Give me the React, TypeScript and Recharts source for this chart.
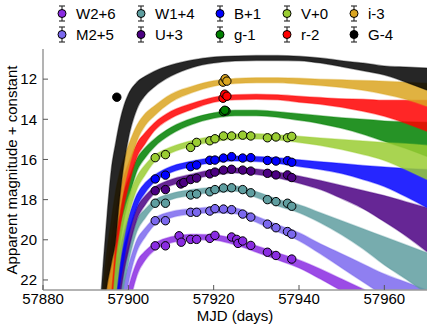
import React from 'react';
import { ComposedChart, Area, Scatter, XAxis, YAxis } from 'recharts';

// ---- model grid (MJD) ----
const MODEL_MJD = [57893, 57894, 57895, 57896, 57897, 57898, 57899, 57900, 57902, 57904, 57906, 57910, 57915, 57920, 57925, 57930, 57935, 57940, 57945, 57950, 57955, 57960, 57965, 57970];

// bright edge (lo) and faint edge (hi) of each model bundle, in magnitudes
const G_LO = [24.5, 21.5, 18.8, 16.5, 15.2, 14.1, 13.3, 12.75, 12.15, 11.85, 11.62, 11.3, 11.05, 10.9, 10.85, 10.82, 10.82, 10.86, 10.95, 11.08, 11.2, 11.35, 11.4, 11.45];
const G_HI = [27, 24, 22.3, 21.2, 20.1, 17.9, 16.2, 15.0, 13.5, 12.8, 12.4, 11.85, 11.42, 11.2, 11.1, 11.07, 11.07, 11.08, 11.2, 11.38, 11.58, 11.8, 12.15, 12.55];

const I_LO = [26, 22.5, 20.5, 19, 17.6, 16.6, 15.9, 15.3, 14.3, 13.7, 13.35, 12.75, 12.35, 12.08, 11.97, 11.93, 11.93, 11.96, 12.0, 12.03, 12.07, 12.1, 12.15, 12.2];
const I_HI = [28, 25, 24, 22.5, 20, 18.6, 17.4, 16.5, 15.1, 14.3, 13.85, 13.15, 12.67, 12.35, 12.22, 12.18, 12.18, 12.24, 12.32, 12.42, 12.55, 12.75, 13.0, 13.35];

const R_LO = [28, 23.5, 21.5, 20, 18.6, 17.6, 16.8, 16.2, 15.2, 14.65, 14.2, 13.6, 13.2, 12.9, 12.78, 12.75, 12.78, 12.85, 12.92, 12.98, 13.0, 13.05, 13.05, 13.05];
const R_HI = [30, 26, 25, 23.5, 21, 19.5, 18.3, 17.4, 15.9, 15.2, 14.6, 13.95, 13.5, 13.15, 13.03, 13.0, 13.03, 13.15, 13.25, 13.4, 13.6, 13.85, 14.2, 14.6];

const GG_LO = [29, 24, 22.3, 20.8, 19.5, 18.5, 17.6, 17.0, 15.95, 15.4, 15.0, 14.4, 13.95, 13.68, 13.55, 13.55, 13.62, 13.72, 13.82, 13.92, 14.0, 14.08, 14.12, 14.15];
const GG_HI = [31, 26, 25, 24, 22, 20.3, 19.0, 18.1, 16.6, 15.9, 15.4, 14.75, 14.25, 13.95, 13.82, 13.82, 13.9, 14.05, 14.22, 14.45, 14.75, 15.1, 15.45, 15.85];

const V_LO = [30, 25, 23.2, 21.8, 20.5, 19.4, 18.6, 17.9, 16.85, 16.25, 15.82, 15.38, 15.05, 14.85, 14.73, 14.72, 14.77, 14.85, 14.93, 15.0, 15.08, 15.15, 15.22, 15.3];
const V_HI = [32, 27, 26, 25, 23, 21.2, 19.9, 18.9, 17.5, 16.75, 16.15, 15.68, 15.33, 15.12, 14.98, 14.98, 15.03, 15.15, 15.3, 15.5, 15.75, 16.05, 16.5, 17.0];

const B_LO = [31, 27, 24.5, 23, 21.6, 20.5, 19.6, 18.9, 17.75, 17.15, 16.8, 16.35, 16.08, 15.9, 15.83, 15.85, 15.92, 16.02, 16.12, 16.2, 16.3, 16.38, 16.45, 16.5];
const B_HI = [33, 29, 27, 26, 24, 22.3, 21, 19.9, 18.4, 17.65, 17.15, 16.65, 16.35, 16.15, 16.08, 16.1, 16.2, 16.35, 16.5, 16.7, 17.0, 17.35, 17.85, 18.4];

const U_LO = [32, 28, 25, 23.6, 22.3, 21.2, 20.3, 19.6, 18.4, 17.8, 17.4, 17.0, 16.72, 16.5, 16.42, 16.47, 16.62, 16.82, 17.05, 17.3, 17.55, 17.8, 18.1, 18.4];
const U_HI = [34, 30, 28, 26.5, 24.8, 23.0, 21.6, 20.6, 19.0, 18.25, 17.72, 17.3, 17.0, 16.78, 16.68, 16.75, 16.92, 17.18, 17.5, 17.95, 18.45, 19.1, 19.8, 20.6];

const W1_LO = [33, 29, 25.5, 24.2, 23, 21.9, 21.0, 20.3, 19.0, 18.45, 18.05, 17.7, 17.5, 17.38, 17.32, 17.6, 17.98, 18.25, 18.65, 19.05, 19.45, 19.85, 20.25, 20.65];
const W1_HI = [35, 31, 28, 27, 25.5, 23.8, 22.3, 21.2, 19.6, 18.9, 18.38, 18.0, 17.78, 17.65, 17.58, 17.9, 18.32, 18.65, 19.15, 19.75, 20.45, 21.25, 21.95, 22.7];

const M2_LO = [34, 30, 26.5, 25.2, 24, 22.9, 22.0, 21.3, 20.0, 19.4, 18.95, 18.6, 18.45, 18.38, 18.42, 18.83, 19.25, 19.65, 20.2, 20.7, 21.2, 21.7, 22.1, 22.5];
const M2_HI = [36, 32, 29, 28, 26.5, 24.8, 23.3, 22.2, 20.6, 19.85, 19.3, 18.9, 18.72, 18.65, 18.7, 19.13, 19.6, 20.05, 20.7, 21.4, 22.1, 22.8, 23.5, 24.2];

const W2_LO = [36, 33, 30, 28, 26, 24.5, 23.3, 22.4, 21.1, 20.55, 20.2, 19.85, 19.72, 19.75, 19.95, 20.3, 20.65, 21.0, 21.45, 21.95, 22.45, 22.95, 23.45, 23.95];
const W2_HI = [38, 35, 32, 30, 29, 27, 25, 23.6, 21.8, 21.0, 20.55, 20.15, 20.0, 20.02, 20.25, 20.62, 21.0, 21.4, 21.95, 22.55, 23.15, 23.75, 24.35, 24.95];

// ---- observations ----
const UVOT_MJD = [57906.3, 57908.7, 57914.6, 57916.0, 57919.1, 57920.3, 57922.3, 57924.2, 57926.8, 57928.7, 57932.6, 57934.6, 57937.3, 57938.3];

const W2_OBS_MJD = [57906.3, 57908.7, 57911.9, 57912.4, 57914.6, 57916.0, 57919.1, 57920.3, 57924.2, 57925.4, 57925.7, 57926.8, 57928.7, 57932.6, 57934.6, 57938.3];
const W2_OBS_MAG = [20.30, 20.30, 19.80, 20.12, 19.98, 19.98, 19.93, 19.78, 19.86, 19.98, 20.18, 20.06, 20.28, 20.62, 20.78, 20.96];
const M2_OBS_MAG = [19.05, 19.05, 18.63, 18.63, 18.57, 18.45, 18.47, 18.50, 18.72, 18.87, 19.22, 19.40, 19.59, 19.72];
const W1_OBS_MAG = [18.18, 18.18, 17.77, 17.72, 17.61, 17.50, 17.42, 17.41, 17.50, 17.66, 18.00, 18.10, 18.18, 18.33];
const U_OBS_MJD = [57906.3, 57908.7, 57912.3, 57913.0, 57914.6, 57916.0, 57919.1, 57920.3, 57922.3, 57924.2, 57926.8, 57928.7, 57932.6, 57934.6, 57937.3, 57938.3];
const U_OBS_MAG = [17.56, 17.50, 17.22, 17.15, 17.0, 16.93, 16.72, 16.63, 16.53, 16.49, 16.53, 16.58, 16.69, 16.77, 16.77, 16.9];
const B_OBS_MAG = [16.97, 16.78, 16.36, 16.28, 16.04, 16.03, 15.93, 15.86, 15.93, 15.91, 16.05, 16.08, 16.06, 16.14];
const V_OBS_MAG = [15.91, 15.76, 15.40, 15.15, 15.07, 14.97, 14.83, 14.83, 14.79, 14.83, 14.92, 14.88, 14.92, 14.85];
const GG_OBS_MJD = [57922.3, 57922.9, 57922.6];
const GG_OBS_MAG = [13.62, 13.58, 13.55];
const R_OBS_MJD = [57922.2, 57922.6, 57923.1];
const R_OBS_MAG = [12.95, 12.75, 12.85];
const I_OBS_MJD = [57922.2, 57922.7, 57923.1];
const I_OBS_MAG = [12.15, 11.98, 12.1];
const G_OBS_MJD = [57897.3];
const G_OBS_MAG = [12.9];

const X_TICKS = [57880, 57900, 57920, 57940, 57960];
const Y_TICKS = [12, 14, 16, 18, 20, 22];

// plot order (also legend order, column-major)
const BANDS = [
  { label: 'W2+6', color: '#8A2BE2', lo: W2_LO, hi: W2_HI, obsX: W2_OBS_MJD, obsY: W2_OBS_MAG },
  { label: 'M2+5', color: '#7B68EE', lo: M2_LO, hi: M2_HI, obsX: UVOT_MJD, obsY: M2_OBS_MAG },
  { label: 'W1+4', color: '#5F9EA0', lo: W1_LO, hi: W1_HI, obsX: UVOT_MJD, obsY: W1_OBS_MAG },
  { label: 'U+3', color: '#4B0082', lo: U_LO, hi: U_HI, obsX: U_OBS_MJD, obsY: U_OBS_MAG },
  { label: 'B+1', color: '#0000FF', lo: B_LO, hi: B_HI, obsX: UVOT_MJD, obsY: B_OBS_MAG },
  { label: 'g-1', color: '#008000', lo: GG_LO, hi: GG_HI, obsX: GG_OBS_MJD, obsY: GG_OBS_MAG },
  { label: 'V+0', color: '#9ACD32', lo: V_LO, hi: V_HI, obsX: UVOT_MJD, obsY: V_OBS_MAG },
  { label: 'r-2', color: '#FF0000', lo: R_LO, hi: R_HI, obsX: R_OBS_MJD, obsY: R_OBS_MAG },
  { label: 'i-3', color: '#DAA520', lo: I_LO, hi: I_HI, obsX: I_OBS_MJD, obsY: I_OBS_MAG },
  { label: 'G-4', color: '#000000', lo: G_LO, hi: G_HI, obsX: G_OBS_MJD, obsY: G_OBS_MAG },
];

const FONT = '"Liberation Sans", Arial, sans-serif';
const AXIS_GRAY = '#9a9a9a';
const TICK_COLOR = '#555';

const BottomTick = (props: any) => {
  const { x, y, payload } = props;
  return (
    <g>
      <line x1={x} x2={x} y1={y - 3} y2={y - 8} stroke={TICK_COLOR} strokeWidth={1} />
      <text x={x} y={y} dy="0.71em" textAnchor="middle" fontFamily={FONT} fontSize={15} fill="#000">
        {payload.value}
      </text>
    </g>
  );
};
const TopTick = (props: any) => {
  const { x, y } = props;
  return <line x1={x} x2={x} y1={y} y2={y + 5} stroke={TICK_COLOR} strokeWidth={1} />;
};
const LeftTick = (props: any) => {
  const { x, y, payload } = props;
  return (
    <g>
      <line x1={x + 6} x2={x + 11} y1={y} y2={y} stroke={TICK_COLOR} strokeWidth={1} />
      <text x={x} y={y} dy="0.355em" textAnchor="end" fontFamily={FONT} fontSize={15} fill="#000">
        {payload.value}
      </text>
    </g>
  );
};
const RightTick = (props: any) => {
  const { x, y } = props;
  return <line x1={x} x2={x - 5} y1={y} y2={y} stroke={TICK_COLOR} strokeWidth={1} />;
};

const Legend = () => (
  <svg width={436} height={48} style={{ position: 'absolute', left: 0, top: 0 }}>
    {BANDS.map((b, k) => {
      const col = Math.floor(k / 2);
      const row = k % 2;
      const mx = [62, 141, 220, 287, 354][col];
      const my = row === 0 ? 13.5 : 34.5;
      return (
        <g key={b.label}>
          <line x1={mx} x2={mx} y1={my - 7.5} y2={my + 7.5} stroke="#333" strokeWidth={1.2} />
          <line x1={mx - 3} x2={mx + 3} y1={my - 7.5} y2={my - 7.5} stroke="#333" strokeWidth={1.2} />
          <line x1={mx - 3} x2={mx + 3} y1={my + 7.5} y2={my + 7.5} stroke="#333" strokeWidth={1.2} />
          <circle cx={mx} cy={my} r={4} fill={b.color} stroke="#000" strokeWidth={1} />
          <text x={mx + 14} y={my} dy="0.36em" fontFamily={FONT} fontSize={15} fill="#000">
            {b.label}
          </text>
        </g>
      );
    })}
  </svg>
);

export default function App() {
  const modelData = BANDS.map((b) =>
    MODEL_MJD.map((x, i) => ({ x, range: [b.lo[i], b.hi[i]] }))
  );
  const obsData = BANDS.map((b) => b.obsX.map((x, i) => ({ x, y: b.obsY[i] })));

  return (
    <div style={{ position: 'absolute', left: 0, top: 0, width: 436, height: 327, background: '#fff' }}>
      <ComposedChart width={436} height={327} margin={{ top: 49, right: 9, left: 0, bottom: 0 }}>
        <XAxis
          dataKey="x"
          type="number"
          domain={[57880, 57970]}
          ticks={X_TICKS}
          allowDataOverflow
          height={37}
          tickSize={0}
          tickMargin={3}
          tick={<BottomTick />}
          axisLine={{ stroke: AXIS_GRAY, strokeWidth: 1.5 }}
          tickLine={false}
        />
        <XAxis
          xAxisId="top"
          orientation="top"
          dataKey="x"
          type="number"
          domain={[57880, 57970]}
          ticks={X_TICKS}
          allowDataOverflow
          height={0}
          tickSize={0}
          tickMargin={0}
          tick={<TopTick />}
          axisLine={{ stroke: AXIS_GRAY, strokeWidth: 1.5 }}
          tickLine={false}
        />
        <YAxis
          type="number"
          domain={[10.5, 22.5]}
          reversed
          ticks={Y_TICKS}
          allowDataOverflow
          width={43}
          tickSize={0}
          tickMargin={6}
          tick={<LeftTick />}
          axisLine={{ stroke: AXIS_GRAY, strokeWidth: 1.5 }}
          tickLine={false}
        />
        <YAxis
          yAxisId="right"
          orientation="right"
          type="number"
          domain={[10.5, 22.5]}
          reversed
          ticks={Y_TICKS}
          allowDataOverflow
          width={0}
          tickSize={0}
          tickMargin={0}
          tick={<RightTick />}
          axisLine={{ stroke: AXIS_GRAY, strokeWidth: 1.5 }}
          tickLine={false}
        />
        {BANDS.map((b, k) => (
          <Area
            key={'m' + b.label}
            data={modelData[k]}
            dataKey="range"
            type="monotone"
            stroke={b.color}
            strokeOpacity={0.35}
            strokeWidth={1.5}
            fill={b.color}
            fillOpacity={0.85}
            isAnimationActive={false}
            dot={false}
            activeDot={false}
            legendType="none"
          />
        ))}
        {BANDS.map((b, k) => (
          <Scatter
            key={'o' + b.label}
            data={obsData[k]}
            dataKey="y"
            isAnimationActive={false}
            legendType="none"
            shape={(p: any) => (
              <circle cx={p.cx} cy={p.cy} r={4.2} fill={b.color} stroke="#000" strokeWidth={1} />
            )}
          />
        ))}
      </ComposedChart>
      <Legend />
      <div
        style={{
          position: 'absolute',
          left: 43,
          width: 384,
          top: 307,
          textAlign: 'center',
          fontFamily: FONT,
          fontSize: 15,
          lineHeight: '18px',
          color: '#000',
        }}
      >
        MJD (days)
      </div>
      <div
        style={{
          position: 'absolute',
          left: 12,
          top: 169.5,
          width: 300,
          marginLeft: -150,
          marginTop: -9,
          textAlign: 'center',
          transform: 'rotate(-90deg)',
          fontFamily: FONT,
          fontSize: 15,
          lineHeight: '18px',
          color: '#000',
          whiteSpace: 'nowrap',
        }}
      >
        Apparent magnitude + constant
      </div>
    </div>
  );
}
